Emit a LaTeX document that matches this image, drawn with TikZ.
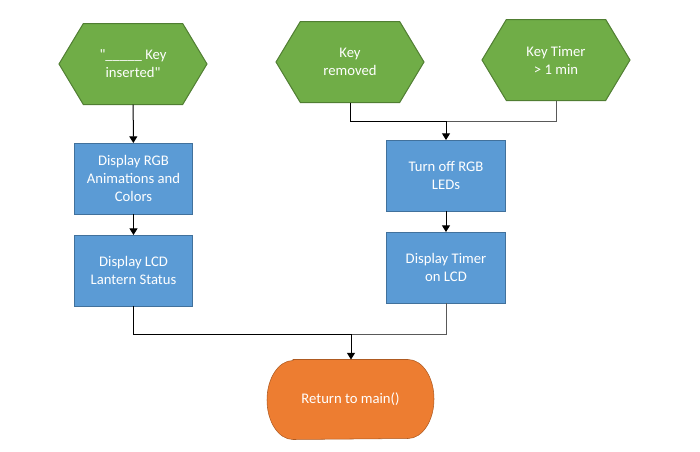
\documentclass[tikz,border=0pt]{standalone}
\usepackage{fontspec}
\setmainfont{Carlito}[Ligatures=TeXOff]
\usetikzlibrary{positioning, arrows.meta, shapes.symbols, backgrounds}

\definecolor{hexgreen}{HTML}{70AD47}
\definecolor{hexline}{HTML}{507E32}
\definecolor{boxblue}{HTML}{5B9BD5}
\definecolor{boxline}{HTML}{41719C}
\definecolor{termorange}{HTML}{ED7D31}
\definecolor{termline}{HTML}{AE5A21}
\definecolor{sideline}{HTML}{595959}

\begin{document}
\begin{tikzpicture}[x=0.75pt, y=-0.75pt, line width=0.75pt,
    font=\fontsize{11}{13.5}\selectfont]
    \tikzstyle{event}=[
        signal, signal to=east and west, signal pointer angle=118,
        fill = hexgreen, draw = hexline,
        minimum width = 111pt, minimum height = 60.75pt,
        inner sep = 0pt, outer sep = 0pt,
        text = white, align = center
    ]
    \tikzstyle{action}=[
        rectangle, fill = boxblue, draw = boxline,
        minimum width = 89pt, minimum height = 53.25pt,
        inner sep = 0pt, outer sep = 0pt,
        text = white, align = center
    ]
    \tikzstyle{flow}=[-{Triangle[width=6pt, length=5pt]}]
    \useasboundingbox (0,0) rectangle (700,451);

    % start events
    \node[event] (ins) at (133,64) {"\_\_\_\_\_ Key\\inserted"};
    \node[event] (rem) at (350,62) {Key\\removed};
    \node[event] (tmr) at (556,60) {Key Timer\\> 1 min};

    % actions
    \begin{scope}[node distance=15.75pt]
      \node[action] (rgb) at (133.5,178.5) {Display RGB\\Animations and\\Colors};
      \node[action] (lcd) [below=of rgb] {Display LCD\\Lantern Status};
      \node[action] (off) at (446,175.5) {Turn off RGB\\LEDs};
      \node[action] (tim) [below=of off] {Display Timer\\on LCD};
    \end{scope}

    % end
    \node[text=white, minimum width=124.5pt, minimum height=59.25pt,
          inner sep=0pt] (ret) at (350.5,399.5) {Return to main()};
    \begin{scope}[on background layer]
      \filldraw[fill=termorange, draw=termline]
        ([xshift=19.5pt]ret.north west) -- ([xshift=-19.5pt]ret.north east)
        arc[start angle=90, end angle=-90, x radius=19.5pt, y radius=29.625pt]
        -- ([xshift=19.5pt]ret.south west)
        arc[start angle=270, end angle=90, x radius=19.5pt, y radius=29.625pt]
        -- cycle;
    \end{scope}

    \coordinate (join1) at (446,121);
    \coordinate (join2) at (351,334);

    \draw[flow] (ins) -- (rgb);
    \draw[flow] (rgb) -- (lcd);
    \draw (rem.south) |- (join1);
    \draw[sideline] (tmr.south) |- (join1);
    \draw[flow] (join1) -- (off.north);
    \draw[flow] (off) -- (tim);
    \draw (lcd.south) |- (join2);
    \draw[sideline] (tim.south) |- (join2);
    \draw[flow] (join2) -- (join2 |- ret.north);
\end{tikzpicture}
\end{document}
